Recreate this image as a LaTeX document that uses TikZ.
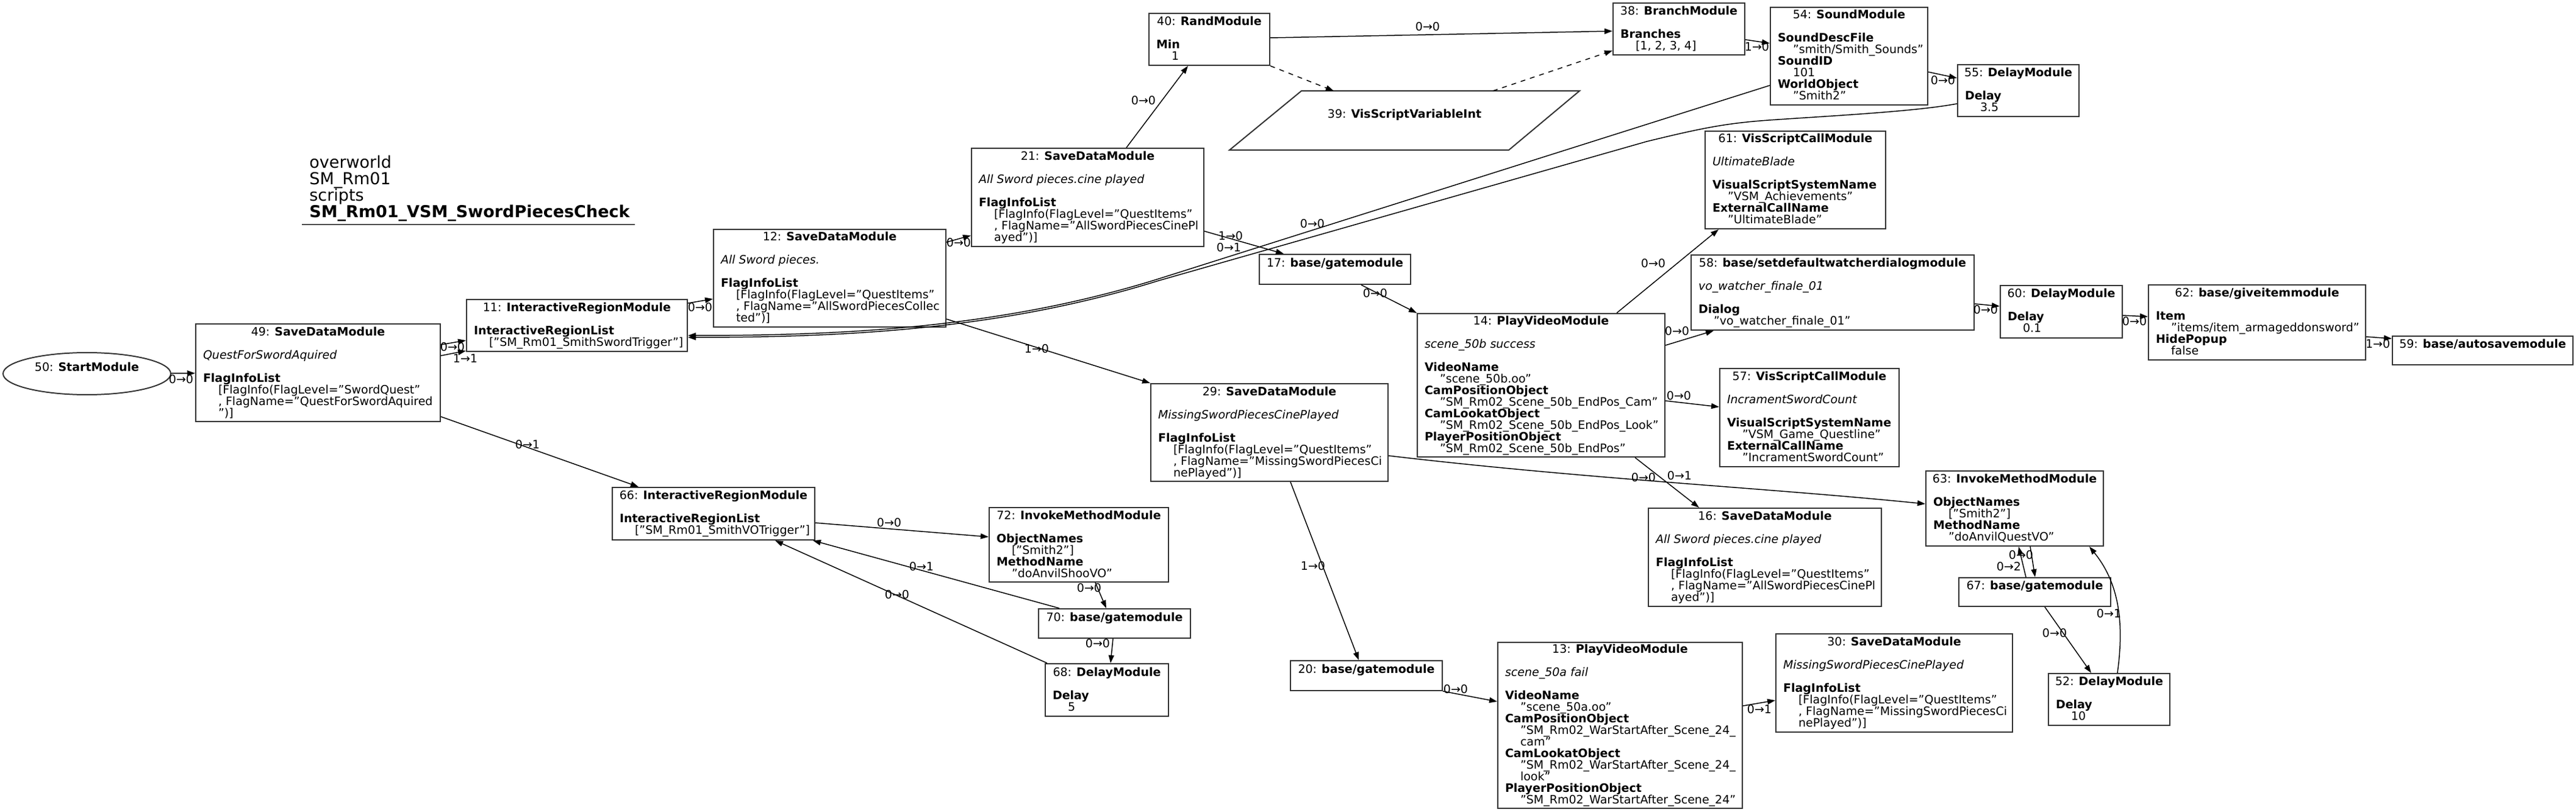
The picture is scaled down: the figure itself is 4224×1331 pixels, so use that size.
\documentclass[tikz,border=0pt]{standalone}
\usepackage{fontspec}
\setmainfont{DejaVu Sans}
\usetikzlibrary{arrows.meta,shapes.geometric}

\newcommand\fsz{\fontsize{9.5pt}{9.5pt}\selectfont}
\newcommand\st{\rule[-2pt]{0pt}{9.5pt}}
\newcommand\TL[2]{\hbox to\hsize{\hss\st#1: \textbf{#2}\hss}}
\newcommand\BL{\hbox to\hsize{\st\hss}}
\newcommand\IT[1]{\hbox to\hsize{\st\textit{#1}\hss}}
\newcommand\KY[1]{\hbox to\hsize{\st\textbf{#1}\hss}}
\newcommand\VL[1]{\hbox to\hsize{\st\kern12.5pt#1\hss}}
\newcommand\modc[2]{\vbox{\fsz\hsize=#1\baselineskip=9.5pt\lineskiplimit=-20pt\lineskip=0pt #2}}
\newcommand\modnode[6]{\node[mbox, minimum width={(#4-#2)*0.5pt}, minimum height={(#5-#3)*0.5pt}] (#1) at ({(#2+#4)/2},{(#3+#5)/2}) {\modc{\dimexpr 1pt*(#4-#2)/2-12pt\relax}{#6}};}

\begin{document}
\begin{tikzpicture}[x=0.5pt,y=-0.5pt,
  mbox/.style={draw=black!80, line width=1pt, rectangle, inner sep=0pt},
  conn/.style={draw=black, line width=0.75pt, -{Triangle[length=6.5pt,width=4.5pt]}},
  dconn/.style={conn, dash pattern=on 4pt off 4pt},
  lbl/.style={inner sep=0pt, font=\fsz}]
\useasboundingbox (0,0) rectangle (4224,1331);

% graph title
\node[anchor=base west, inner sep=0pt] (ttl) at (507,357) {\vbox{\fontsize{13.5pt}{13.5pt}\selectfont\baselineskip=13.5pt\lineskiplimit=-20pt\lineskip=0pt
  \hbox{overworld}\hbox{SM\_Rm01}\hbox{scripts}\hbox{\textbf{SM\_Rm01\_VSM\_SwordPiecesCheck}}}};
\draw[line width=1.2pt, black!70] (495,368) -- (1041,368);

% nodes
\node[draw=black!80, line width=1pt, ellipse, minimum width=137.5pt, minimum height=34.5pt, inner sep=0pt] (n50) at (142.5,612.5) {\modc{80pt}{\TL{50}{StartModule}\BL}};

\modnode{n49}{321}{531}{722}{691}{\TL{49}{SaveDataModule}\BL\IT{QuestForSwordAquired}\BL\KY{FlagInfoList}\VL{[FlagInfo(FlagLevel="SwordQuest"}\VL{, FlagName="QuestForSwordAquired}\VL{")]}}
\modnode{n11}{765}{491}{1127}{576}{\TL{11}{InteractiveRegionModule}\BL\KY{InteractiveRegionList}\VL{["SM\_Rm01\_SmithSwordTrigger"]}}
\modnode{n12}{1170}{376}{1551}{536}{\TL{12}{SaveDataModule}\BL\IT{All Sword pieces.}\BL\KY{FlagInfoList}\VL{[FlagInfo(FlagLevel="QuestItems"}\VL{, FlagName="AllSwordPiecesCollec}\VL{ted")]}}
\modnode{n21}{1593}{243}{1974}{404}{\TL{21}{SaveDataModule}\BL\IT{All Sword pieces.cine played}\BL\KY{FlagInfoList}\VL{[FlagInfo(FlagLevel="QuestItems"}\VL{, FlagName="AllSwordPiecesCinePl}\VL{ayed")]}}
\modnode{n40}{1884}{22}{2082}{107}{\TL{40}{RandModule}\BL\KY{Min}\VL{1}}
\modnode{n38}{2645}{5}{2861}{90}{\TL{38}{BranchModule}\BL\KY{Branches}\VL{[1, 2, 3, 4]}}
\modnode{n54}{2903}{12}{3161}{172}{\TL{54}{SoundModule}\BL\KY{SoundDescFile}\VL{"smith/Smith\_Sounds"}\KY{SoundID}\VL{101}\KY{WorldObject}\VL{"Smith2"}}
\modnode{n55}{3210}{106}{3409}{191}{\TL{55}{DelayModule}\BL\KY{Delay}\VL{3.5}}
\modnode{n61}{2796}{215}{3092}{375}{\TL{61}{VisScriptCallModule}\BL\IT{UltimateBlade}\BL\KY{VisualScriptSystemName}\VL{"VSM\_Achievements"}\KY{ExternalCallName}\VL{"UltimateBlade"}}
\modnode{n17}{2065}{417}{2313}{466}{\TL{17}{base/gatemodule}\BL}
\modnode{n14}{2324}{514}{2730}{749}{\TL{14}{PlayVideoModule}\BL\IT{scene\_50b success}\BL\KY{VideoName}\VL{"scene\_50b.oo"}\KY{CamPositionObject}\VL{"SM\_Rm02\_Scene\_50b\_EndPos\_Cam"}\KY{CamLookatObject}\VL{"SM\_Rm02\_Scene\_50b\_EndPos\_Look"}\KY{PlayerPositionObject}\VL{"SM\_Rm02\_Scene\_50b\_EndPos"}}
\modnode{n58}{2773}{418}{3237}{541}{\TL{58}{base/setdefaultwatcherdialogmodule}\BL\IT{vo\_watcher\_finale\_01}\BL\KY{Dialog}\VL{"vo\_watcher\_finale\_01"}}
\modnode{n57}{2820}{604}{3114}{765}{\TL{57}{VisScriptCallModule}\BL\IT{IncramentSwordCount}\BL\KY{VisualScriptSystemName}\VL{"VSM\_Game\_Questline"}\KY{ExternalCallName}\VL{"IncramentSwordCount"}}
\modnode{n60}{3280}{468}{3480}{554}{\TL{60}{DelayModule}\BL\KY{Delay}\VL{0.1}}
\modnode{n62}{3523}{467}{3879}{590}{\TL{62}{base/giveitemmodule}\BL\KY{Item}\VL{"items/item\_armageddonsword"}\KY{HidePopup}\VL{false}}
\modnode{n59}{3923}{551}{4219}{598}{\TL{59}{base/autosavemodule}\BL}
\modnode{n29}{1887}{629}{2276}{789}{\TL{29}{SaveDataModule}\BL\IT{MissingSwordPiecesCinePlayed}\BL\KY{FlagInfoList}\VL{[FlagInfo(FlagLevel="QuestItems"}\VL{, FlagName="MissingSwordPiecesCi}\VL{nePlayed")]}}
\modnode{n16}{2703}{833}{3085}{994}{\TL{16}{SaveDataModule}\BL\IT{All Sword pieces.cine played}\BL\KY{FlagInfoList}\VL{[FlagInfo(FlagLevel="QuestItems"}\VL{, FlagName="AllSwordPiecesCinePl}\VL{ayed")]}}
\modnode{n63}{3158}{772}{3449}{895}{\TL{63}{InvokeMethodModule}\BL\KY{ObjectNames}\VL{["Smith2"]}\KY{MethodName}\VL{"doAnvilQuestVO"}}
\modnode{n67}{3212}{947}{3461}{994}{\TL{67}{base/gatemodule}\BL}
\modnode{n52}{3359}{1104}{3558}{1189}{\TL{52}{DelayModule}\BL\KY{Delay}\VL{10}}
\modnode{n66}{1004}{799}{1336}{885}{\TL{66}{InteractiveRegionModule}\BL\KY{InteractiveRegionList}\VL{["SM\_Rm01\_SmithVOTrigger"]}}
\modnode{n72}{1622}{832}{1916}{954}{\TL{72}{InvokeMethodModule}\BL\KY{ObjectNames}\VL{["Smith2"]}\KY{MethodName}\VL{"doAnvilShooVO"}}
\modnode{n70}{1703}{998}{1952}{1046}{\TL{70}{base/gatemodule}\BL}
\modnode{n68}{1714}{1088}{1916}{1174}{\TL{68}{DelayModule}\BL\KY{Delay}\VL{5}}
\modnode{n20}{2116}{1083}{2365}{1132}{\TL{20}{base/gatemodule}\BL}
\modnode{n13}{2456}{1053}{2857}{1325}{\TL{13}{PlayVideoModule}\BL\IT{scene\_50a fail}\BL\KY{VideoName}\VL{"scene\_50a.oo"}\KY{CamPositionObject}\VL{"SM\_Rm02\_WarStartAfter\_Scene\_24\_}\VL{cam"}\KY{CamLookatObject}\VL{"SM\_Rm02\_WarStartAfter\_Scene\_24\_}\VL{look"}\KY{PlayerPositionObject}\VL{"SM\_Rm02\_WarStartAfter\_Scene\_24"}}
\modnode{n30}{2912}{1039}{3300}{1200}{\TL{30}{SaveDataModule}\BL\IT{MissingSwordPiecesCinePlayed}\BL\KY{FlagInfoList}\VL{[FlagInfo(FlagLevel="QuestItems"}\VL{, FlagName="MissingSwordPiecesCi}\VL{nePlayed")]}}

% parallelogram 39
\draw[draw=black!80, line width=1pt] (2134,149) -- (2590,149) -- (2474,246) -- (2016,246) -- cycle;
\node[inner sep=0pt] (n39) at (2303,197.5) {\modc{200pt}{\TL{39}{VisScriptVariableInt}\BL}};
\coordinate (c39in) at (2187,149);
\coordinate (c39out) at (2448,149);

% connectors
\draw[conn] (n50) -- (n49);
\draw[conn] (n49.east |- 0,565) -- (n11.west |- 0,558);
\draw[conn] (n49.east |- 0,583) -- (n11.west |- 0,575);
\draw[conn] (n11.east |- 0,497) -- (n12.west |- 0,490);
\draw[conn] (n12.east |- 0,397) -- (n21.west |- 0,386);
\draw[conn] (n21.north -| 1847,0) -- (n40.south -| 1948,0);
\draw[conn] (n40.east |- 0,62) -- (n38.west |- 0,51);
\draw[dconn] (n40.south east) -- (c39in);
\draw[dconn] (c39out) -- (n38.west |- 0,83);
\draw[conn] (n38.east |- 0,65) -- (n54.west |- 0,71);
\draw[conn] (n54.east |- 0,118) -- (n55.west |- 0,128);
\draw[conn] (n54.west |- 0,140) -- (1900,457) .. controls (1650,535) and (1400,550) .. (n11.east |- 0,550);
\draw[conn] (n55.west |- 0,170) .. controls (3140,183) and (3000,190) .. (2900,197) .. controls (2830,202) and (2790,210) .. (2700,232) -- (1900,460) .. controls (1650,538) and (1400,553) .. (n11.east |- 0,553);
\draw[conn] (n21.east |- 0,379) -- (n17.north -| 2105,0);
\draw[conn] (n17.south -| 2232,0) -- (n14.north west);
\draw[conn] (n12.east |- 0,523) -- (n29.north west);
\draw[conn] (n14.north -| 2651,0) -- (n61.south -| 2818,0);
\draw[conn] (n14.east |- 0,566) -- (n58.south -| 2810,0);
\draw[conn] (n14.east |- 0,657) -- (n57.west |- 0,667);
\draw[conn] (n14.south -| 2681,0) -- (n16.north -| 2786,0);
\draw[conn] (n29.east |- 0,747) .. controls (2600,785) and (2900,800) .. (n63.west |- 0,826);
\draw[conn] (n58.east |- 0,498) -- (n60.west |- 0,502);
\draw[conn] (n60.east |- 0,517) -- (n62.west |- 0,519);
\draw[conn] (n62.east |- 0,552) -- (n59.west |- 0,555);
\draw[conn] (n63.south -| 3329,0) -- (n67.north -| 3337,0);
\draw[conn] (n67.north -| 3322,0) -- (n63.south -| 3310,0);
\draw[conn] (n67.south -| 3353,0) -- (n52.north -| 3429,0);
\draw[conn] (n52.north -| 3472,0) .. controls (3485,1010) and (3470,950) .. (n63.south -| 3426,0);
\draw[conn] (n49.east |- 0,683) -- (n66.north -| 1047,0);
\draw[conn] (n66.east |- 0,857) -- (n72.west |- 0,880);
\draw[conn] (n72.south -| 1796,0) -- (n70.north -| 1814,0);
\draw[conn] (n70.north -| 1737,0) -- (n66.south -| 1333,0);
\draw[conn] (n70.south -| 1825,0) -- (n68.north -| 1821,0);
\draw[conn] (n68.north -| 1717,0) -- (n66.south -| 1271,0);
\draw[conn] (n29.south -| 2116,0) -- (n20.north -| 2228,0);
\draw[conn] (n20.south east) -- (n13.west |- 0,1150);
\draw[conn] (n13.east |- 0,1157) -- (n30.west |- 0,1148);

% connector labels
\node[lbl] (l1) at (297,622) {0→0};
\node[lbl] (l2) at (742,569) {0→0};
\node[lbl] (l3) at (763,588) {1→1};
\node[lbl] (l4) at (1148,504) {0→0};
\node[lbl] (l5) at (1572,398) {0→0};
\node[lbl] (l6) at (1875,165) {0→0};
\node[lbl] (l7) at (2341,44) {0→0};
\node[lbl] (l8) at (2881,77) {1→0};
\node[lbl] (l9) at (3186,132) {0→0};
\node[lbl] (l10) at (2152,367) {0→0};
\node[lbl] (l11) at (2018,387) {1→0};
\node[lbl] (l12) at (2015,406) {0→1};
\node[lbl] (l13) at (2255,481) {0→0};
\node[lbl] (l14) at (1700,572) {1→0};
\node[lbl] (l15) at (2711,432) {0→0};
\node[lbl] (l16) at (2750,543) {0→0};
\node[lbl] (l17) at (2753,649) {0→0};
\node[lbl] (l18) at (2754,780) {0→1};
\node[lbl] (l19) at (2695,783) {0→0};
\node[lbl] (l20) at (3256,508) {0→0};
\node[lbl] (l21) at (3500,527) {0→0};
\node[lbl] (l22) at (3899,564) {1→0};
\node[lbl] (l23) at (3314,910) {0→0};
\node[lbl] (l24) at (3294,929) {0→2};
\node[lbl] (l25) at (3369,1038) {0→0};
\node[lbl] (l26) at (3458,1006) {0→1};
\node[lbl] (l27) at (865,729) {0→1};
\node[lbl] (l28) at (1458,857) {0→0};
\node[lbl] (l29) at (1786,964) {0→0};
\node[lbl] (l30) at (1511,929) {0→1};
\node[lbl] (l31) at (1800,1055) {0→0};
\node[lbl] (l32) at (1471,975) {0→0};
\node[lbl] (l33) at (2153,928) {1→0};
\node[lbl] (l34) at (2387,1130) {0→0};
\node[lbl] (l35) at (2885,1163) {0→1};
\end{tikzpicture}
\end{document}
